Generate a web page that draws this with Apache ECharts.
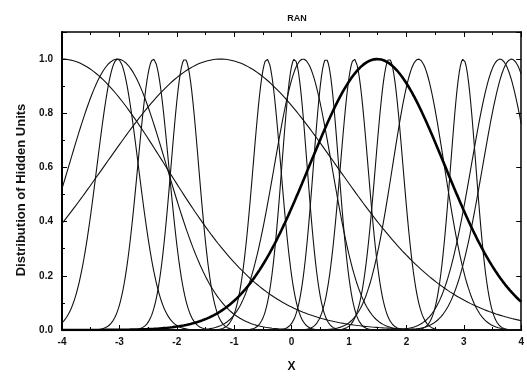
<!DOCTYPE html>
<html>
<head>
<meta charset="utf-8">
<script src="https://cdn.jsdelivr.net/npm/echarts@6/dist/echarts.min.js"></script>
<style>
html,body{margin:0;padding:0;background:#fff;}
#chart{width:527px;height:378px;}
</style>
</head>
<body>
<div id="chart"></div>
<script>
// hidden unit centres and widths
var centres = [-4.0, -3.03, -3.03, -2.41, -1.86, -1.24, -0.43, 0.05, 0.2, 0.6, 1.09, 1.7, 2.21, 2.99, 3.63, 3.83];
var widths  = [1.8, 0.85, 0.36, 0.27, 0.24, 2.02, 0.24, 0.22, 0.5, 0.22, 0.24, 0.24, 0.45, 0.22, 0.5, 0.5];
// the thick unit
var boldCentre = 1.49;
var boldWidth = 1.18;
var xTicks = [-4, -3, -2, -1, 0, 1, 2, 3, 4];
var yTicks = [0.0, 0.2, 0.4, 0.6, 0.8, 1.0];

function unit(c, s){
    var pts = [];
    for(var i = 0; i <= 400; i++){
        var x = -4 + i * 0.02;
        pts.push([x, Math.exp(-(x - c) * (x - c) / (2 * s * s))]);
    }
    return pts;
}

var chart = echarts.init(document.getElementById('chart'));
var series = centres.map(function(c, i){
    return {
        type: 'line',
        data: unit(c, widths[i]),
        showSymbol: false,
        silent: true,
        lineStyle: {color: '#111', width: 1.1}
    };
});
series.push({
    type: 'line',
    data: unit(boldCentre, boldWidth),
    showSymbol: false,
    silent: true,
    lineStyle: {color: '#000', width: 2.6}
});

var font = 'Liberation Sans, Arial, sans-serif';
var option = {
    animation: false,
    title: {
        text: 'RAN',
        left: 292,
        top: 9,
        textAlign: 'center',
        textStyle: {fontSize: 9, fontWeight: 'bold', color: '#111', fontFamily: font}
    },
    grid: {left: 62, right: 2, top: 32, bottom: 47},
    xAxis: [{
        type: 'value',
        min: -4, max: 4, interval: 1,
        name: 'X',
        nameLocation: 'middle',
        nameGap: 31,
        nameTextStyle: {fontSize: 12, fontWeight: 'bold', color: '#111', fontFamily: font},
        axisLine: {onZero: false, lineStyle: {color: '#000', width: 2}},
        axisTick: {inside: true, length: 5, lineStyle: {color: '#000'}},
        minorTick: {show: true, splitNumber: 2, length: 3, lineStyle: {color: '#000'}},
        axisLabel: {
            margin: 7, fontSize: 10, fontWeight: 'bold', color: '#111', fontFamily: font,
            formatter: function(v){ return xTicks.indexOf(v) >= 0 ? String(v) : ''; }
        },
        splitLine: {show: false}
    }, {
        type: 'value',
        position: 'top',
        min: -4, max: 4, interval: 1,
        axisLine: {onZero: false, lineStyle: {color: '#000', width: 1.5}},
        axisTick: {inside: true, length: 5, lineStyle: {color: '#000'}},
        minorTick: {show: true, splitNumber: 2, length: 3, lineStyle: {color: '#000'}},
        axisLabel: {show: false},
        splitLine: {show: false}
    }],
    yAxis: [{
        type: 'value',
        min: 0, max: 1.1, interval: 0.2,
        name: 'Distribution of Hidden Units',
        nameLocation: 'middle',
        nameGap: 34,
        nameTextStyle: {fontSize: 13, fontWeight: 'bold', color: '#111', fontFamily: font, padding: [0, 0, 0, -18]},
        axisLine: {show: true, onZero: false, lineStyle: {color: '#000', width: 2}},
        axisTick: {inside: true, length: 5, lineStyle: {color: '#000'}},
        minorTick: {show: true, splitNumber: 2, length: 3, lineStyle: {color: '#000'}},
        axisLabel: {
            margin: 9, fontSize: 10, fontWeight: 'bold', color: '#111', fontFamily: font,
            showMaxLabel: false,
            formatter: function(v){
                var r = Math.round(v * 10) / 10;
                return yTicks.indexOf(r) >= 0 ? r.toFixed(1) : '';
            }
        },
        splitLine: {show: false}
    }, {
        type: 'value',
        position: 'right',
        min: 0, max: 1.1, interval: 0.2,
        axisLine: {show: true, onZero: false, lineStyle: {color: '#000', width: 1.5}},
        axisTick: {inside: true, length: 5, lineStyle: {color: '#000'}},
        axisLabel: {show: false},
        splitLine: {show: false}
    }],
    series: series
};
chart.setOption(option);
</script>
</body>
</html>
